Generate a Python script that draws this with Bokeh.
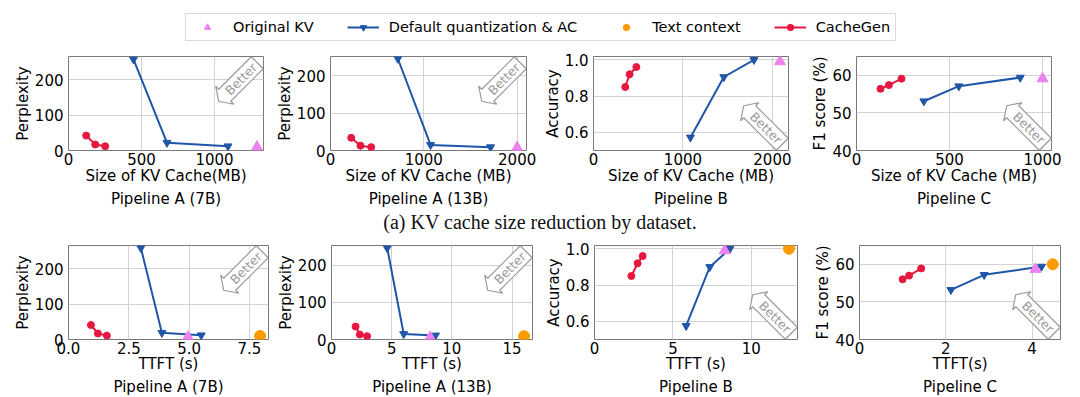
import math
from bokeh.plotting import figure
from bokeh.models import Range1d, FixedTicker, Title, Legend, LegendItem, Div, PrintfTickFormatter
from bokeh.layouts import column, row
from bokeh.embed import file_html
from bokeh.resources import INLINE
from bokeh.core.properties import value

FONT = "DejaVu Sans"
RED = "#e8173f"
BLUE = "#1f56a8"
VIOLET = "#ee82ee"
ORANGE = "#ff9a00"
GREY = "#9a9a9a"

legend_labels = ["Original KV", "Default quantization & AC", "Text context", "CacheGen"]
caption_a = "(a) KV cache size reduction by dataset."

# ---------- (a) KV cache size ----------
# Pipeline A (7B)
a7_size_cg_x = [121, 183, 251]
a7_size_cg_y = [42, 17, 12]
a7_size_dq_x = [445, 674, 1092]
a7_size_dq_y = [257, 22, 12]
a7_size_orig_x = [1290]
a7_size_orig_y = [10]
# Pipeline A (13B)
a13_size_cg_x = [222, 321, 436]
a13_size_cg_y = [34, 13, 9]
a13_size_dq_x = [722, 1072, 1715]
a13_size_dq_y = [246, 15, 9]
a13_size_orig_x = [2000]
a13_size_orig_y = [8]
# Pipeline B
b_size_cg_x = [355, 404, 479]
b_size_cg_y = [0.85, 0.92, 0.96]
b_size_dq_x = [1084, 1457, 1794]
b_size_dq_y = [0.572, 0.905, 1.0]
b_size_orig_x = [2085]
b_size_orig_y = [0.99]
# Pipeline C
c_size_cg_x = [129, 174, 242]
c_size_cg_y = [56.4, 57.4, 59.1]
c_size_dq_x = [362, 550, 880]
c_size_dq_y = [53.1, 57.1, 59.4]
c_size_orig_x = [1000]
c_size_orig_y = [59.1]

# ---------- (b) TTFT ----------
a7_ttft_cg_x = [0.93, 1.22, 1.59]
a7_ttft_cg_y = [41, 17, 11]
a7_ttft_dq_x = [3.0, 3.87, 5.5]
a7_ttft_dq_y = [259, 19, 12]
a7_ttft_orig_x = [4.95]
a7_ttft_orig_y = [7]
a7_ttft_text_x = [7.94]
a7_ttft_text_y = [10]

a13_ttft_cg_x = [2.0, 2.35, 2.96]
a13_ttft_cg_y = [35, 13.5, 9]
a13_ttft_dq_x = [4.63, 6.0, 8.64]
a13_ttft_dq_y = [247, 15, 11]
a13_ttft_orig_x = [8.2]
a13_ttft_orig_y = [6]
a13_ttft_text_x = [16.0]
a13_ttft_text_y = [9]

b_ttft_cg_x = [2.35, 2.75, 3.07]
b_ttft_cg_y = [0.85, 0.92, 0.96]
b_ttft_dq_x = [5.84, 7.35, 8.63]
b_ttft_dq_y = [0.575, 0.90, 1.0]
b_ttft_orig_x = [8.3]
b_ttft_orig_y = [0.99]
b_ttft_text_x = [12.4]
b_ttft_text_y = [1.0]

c_ttft_cg_x = [1.0, 1.15, 1.43]
c_ttft_cg_y = [56.0, 57.0, 58.9]
c_ttft_dq_x = [2.12, 2.89, 4.22]
c_ttft_dq_y = [53.2, 57.2, 59.4]
c_ttft_orig_x = [4.08]
c_ttft_orig_y = [58.7]
c_ttft_text_x = [4.48]
c_ttft_text_y = [60]

FH = 94


def better_arrow(p, fw, xr, yr, corner):
    # hollow "larrow" box with rotated text, positioned in screen px inside the frame
    H, Lb, dx, dxx = 17.0, 46.0, 8.5, 4.25
    local = [(-Lb / 2, -H / 2), (Lb / 2, -H / 2), (Lb / 2, H / 2), (-Lb / 2, H / 2),
             (-Lb / 2, H / 2 + dxx), (-Lb / 2 - dx, 0.0), (-Lb / 2, -H / 2 - dxx)]
    if corner == "tr":
        th = math.pi / 4
        cx, cy = fw - 22.5, FH - 22.5
    else:
        th = -math.pi / 4
        cx, cy = fw - 22.5, 22.5
    c, s = math.cos(th), math.sin(th)
    def to_data(px, py):
        return (xr[0] + px / fw * (xr[1] - xr[0]), yr[0] + py / FH * (yr[1] - yr[0]))
    pts = [to_data(cx + x * c - y * s, cy + x * s + y * c) for x, y in local]
    p.patch([q[0] for q in pts], [q[1] for q in pts], fill_color="white",
            line_color=GREY, line_width=1.2)
    tx, ty = to_data(cx, cy)
    p.text(x=[tx], y=[ty], text=["Better"], angle=th, text_align="center",
           text_baseline="middle", text_font=value(FONT), text_font_size="12.5px",
           text_color=GREY)


def make_panel(fw, lb, rb, bb, xr, yr, xt, yt, xlabel, ylabel, sub, corner,
               cgx, cgy, dqx, dqy, ox, oy, tx=None, ty=None, lab_so=-1, title_so=0,
               xfmt=None, yfmt=None):
    p = figure(frame_width=fw, frame_height=FH, min_border_left=lb, min_border_right=rb,
               min_border_top=8, min_border_bottom=bb,
               x_range=Range1d(*xr), y_range=Range1d(*yr),
               output_backend="svg", toolbar_location=None, tools="")
    p.outline_line_color = "#7a7a7a"
    p.outline_line_width = 1
    p.xaxis.ticker = FixedTicker(ticks=xt)
    p.yaxis.ticker = FixedTicker(ticks=yt)
    if xfmt:
        p.xaxis.formatter = PrintfTickFormatter(format=xfmt)
    if yfmt:
        p.yaxis.formatter = PrintfTickFormatter(format=yfmt)
    for ax in p.axis:
        ax.axis_line_color = None
        ax.major_tick_line_color = None
        ax.minor_tick_line_color = None
        ax.major_tick_out = 0
        ax.major_tick_in = 0
        ax.major_label_text_font = FONT
        ax.major_label_text_font_size = "15px"
        ax.major_label_text_color = "black"
        ax.axis_label_text_font = FONT
        ax.axis_label_text_font_size = "15px"
        ax.axis_label_text_font_style = "normal"
        ax.axis_label_text_color = "black"
    p.xaxis.major_label_standoff = 2
    p.xaxis.axis_label_standoff = lab_so
    p.yaxis.major_label_standoff = 5
    p.yaxis.axis_label_standoff = 0
    p.xaxis.axis_label = xlabel
    p.yaxis.axis_label = ylabel
    p.grid.grid_line_color = "#d3d3d3"
    p.grid.grid_line_width = 1
    t = Title(text=sub, align="center", text_font=FONT, text_font_size="15px",
              text_font_style="normal", text_color="black", standoff=title_so)
    p.add_layout(t, "below")

    better_arrow(p, fw, xr, yr, corner)

    p.line(cgx, cgy, line_color=RED, line_width=2)
    p.scatter(cgx, cgy, marker="circle", size=7, fill_color=RED, line_color=RED)
    p.line(dqx, dqy, line_color=BLUE, line_width=2)
    p.scatter(dqx, dqy, marker="inverted_triangle", size=8, fill_color=BLUE, line_color=BLUE)
    p.scatter(ox, oy, marker="triangle", size=11, fill_color=VIOLET, line_color=VIOLET)
    if tx is not None:
        p.scatter(tx, ty, marker="circle", size=11, fill_color=ORANGE, line_color=ORANGE)
    return p


SZ = "Size of KV Cache (MB)"
p1 = make_panel(195, 68, 7, 58, (0, 1335), (0, 265), [0, 500, 1000], [0, 100, 200],
                "Size of KV Cache(MB)", "Perplexity", "Pipeline A (7B)", "tr",
                a7_size_cg_x, a7_size_cg_y, a7_size_dq_x, a7_size_dq_y, a7_size_orig_x, a7_size_orig_y)
p2 = make_panel(196, 60, 10, 58, (0, 2100), (0, 252), [0, 1000, 2000], [0, 100, 200],
                SZ, "Perplexity", "Pipeline A (13B)", "tr",
                a13_size_cg_x, a13_size_cg_y, a13_size_dq_x, a13_size_dq_y, a13_size_orig_x, a13_size_orig_y)
p3 = make_panel(195, 57, 8, 58, (0, 2180), (0.5, 1.018), [0, 1000, 2000], [0.6, 0.8, 1.0],
                SZ, "Accuracy", "Pipeline B", "br",
                b_size_cg_x, b_size_cg_y, b_size_dq_x, b_size_dq_y, b_size_orig_x, b_size_orig_y,
                yfmt="%.1f")
p4 = make_panel(195, 60, 17, 58, (0, 1048), (40, 65), [0, 500, 1000], [40, 50, 60],
                SZ, "F1 score (%)", "Pipeline C", "br",
                c_size_cg_x, c_size_cg_y, c_size_dq_x, c_size_dq_y, c_size_orig_x, c_size_orig_y)

p5 = make_panel(200, 68, 3, 58, (0, 8.29), (0, 266), [0, 2.5, 5, 7.5], [0, 100, 200],
                "TTFT (s)", "Perplexity", "Pipeline A (7B)", "tr",
                a7_ttft_cg_x, a7_ttft_cg_y, a7_ttft_dq_x, a7_ttft_dq_y, a7_ttft_orig_x, a7_ttft_orig_y,
                a7_ttft_text_x, a7_ttft_text_y, lab_so=-2, title_so=0, xfmt="%.1f")
p6 = make_panel(201, 60, 2, 58, (0, 16.7), (0, 254), [0, 5, 10, 15], [0, 100, 200],
                "TTFT (s)", "Perplexity", "Pipeline A (13B)", "tr",
                a13_ttft_cg_x, a13_ttft_cg_y, a13_ttft_dq_x, a13_ttft_dq_y, a13_ttft_orig_x, a13_ttft_orig_y,
                a13_ttft_text_x, a13_ttft_text_y, lab_so=-2, title_so=0)
p7 = make_panel(203, 60, 2, 58, (0, 12.94), (0.5, 1.018), [0, 5, 10], [0.6, 0.8, 1.0],
                "TTFT (s)", "Accuracy", "Pipeline B", "br",
                b_ttft_cg_x, b_ttft_cg_y, b_ttft_dq_x, b_ttft_dq_y, b_ttft_orig_x, b_ttft_orig_y,
                b_ttft_text_x, b_ttft_text_y, lab_so=-2, title_so=0, yfmt="%.1f")
p8 = make_panel(201, 60, 10, 58, (0, 4.66), (40, 65), [0, 2, 4], [40, 50, 60],
                "TTFT(s)", "F1 score (%)", "Pipeline C", "br",
                c_ttft_cg_x, c_ttft_cg_y, c_ttft_dq_x, c_ttft_dq_y, c_ttft_orig_x, c_ttft_orig_y,
                c_ttft_text_x, c_ttft_text_y, lab_so=-2, title_so=0)

# ---------- legend strip (its renderers reuse panel data, which lies outside this strip's range) ----------
lf = figure(width=1080, height=48, min_border=0, x_range=Range1d(0, 1), y_range=Range1d(0, 1),
            x_axis_location=None, y_axis_location=None,
            output_backend="svg", toolbar_location=None, tools="")
lf.outline_line_color = None
lf.xgrid.visible = False
lf.ygrid.visible = False
r_orig = lf.scatter(a7_size_orig_x, a7_size_orig_y, marker="triangle", size=11,
                    fill_color=VIOLET, line_color=VIOLET)
r_dq_l = lf.line(a7_size_dq_x, a7_size_dq_y, line_color=BLUE, line_width=2)
r_dq_m = lf.scatter(a7_size_dq_x, a7_size_dq_y, marker="inverted_triangle", size=8,
                    fill_color=BLUE, line_color=BLUE)
r_txt = lf.scatter(a13_ttft_text_x, a13_ttft_text_y, marker="circle", size=11,
                   fill_color=ORANGE, line_color=ORANGE)
r_cg_l = lf.line(a7_size_cg_x, a7_size_cg_y, line_color=RED, line_width=2)
r_cg_m = lf.scatter(a7_size_cg_x, a7_size_cg_y, marker="circle", size=7,
                    fill_color=RED, line_color=RED)
leg = Legend(items=[LegendItem(label=legend_labels[0], renderers=[r_orig]),
                    LegendItem(label=legend_labels[1], renderers=[r_dq_l, r_dq_m]),
                    LegendItem(label=legend_labels[2], renderers=[r_txt]),
                    LegendItem(label=legend_labels[3], renderers=[r_cg_l, r_cg_m])],
             orientation="horizontal", location=(185, 7), margin=0,
             glyph_width=32, glyph_height=16, label_standoff=10, spacing=33, padding=5,
             label_text_font=FONT, label_text_font_size="14.5px", label_text_color="black",
             border_line_color="#b5b5b5", border_line_width=1, background_fill_alpha=1.0)
lf.add_layout(leg)

cap_a = Div(text='<div style="font-family: \'Liberation Serif\', \'Times New Roman\', serif; '
                 'font-size: 20px; line-height: 29px; text-align: center; width: 1074px; '
                 'padding-left: 6px; color: #111;">' + caption_a + '</div>',
            width=1080, height=29, margin=(0, 0, 0, 0))

layout = column(lf, row(p1, p2, p3, p4), cap_a, row(p5, p6, p7, p8), spacing=0)

open("out.html", "w").write(file_html(layout, INLINE))
